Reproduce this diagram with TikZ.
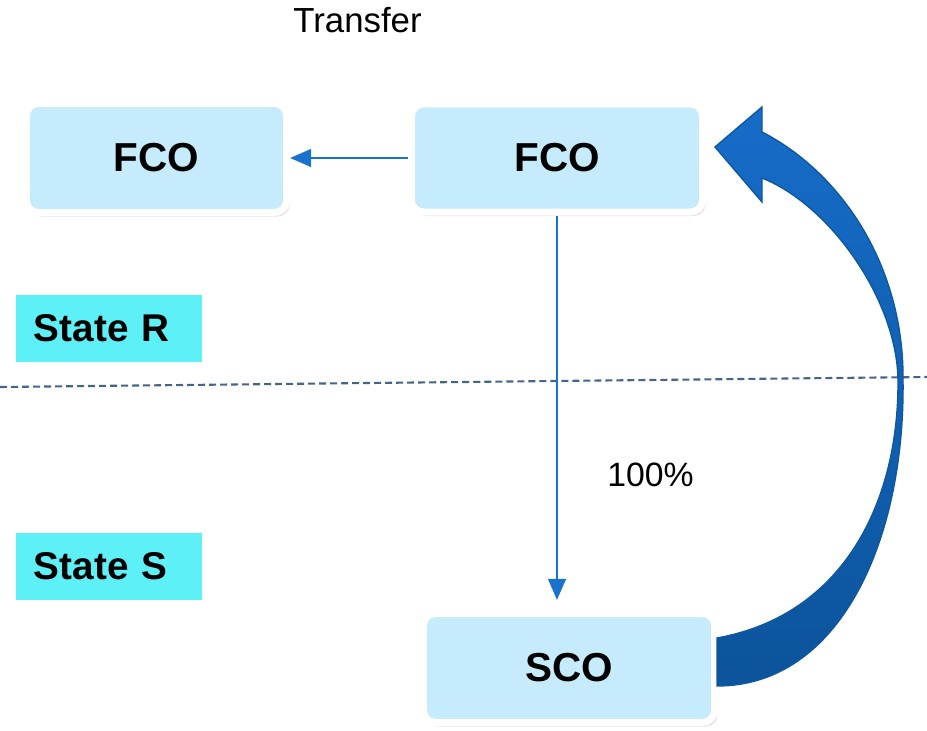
\documentclass[tikz,border=0pt]{standalone}
\usepackage{fontspec}
\setmainfont{Liberation Sans}
\usepackage{xcolor}
\usepackage{tikz}
\usetikzlibrary{positioning, shadows, arrows.meta}
\definecolor{boxblue}{RGB}{198,235,252}
\definecolor{statecyan}{RGB}{94,240,247}
\definecolor{linkblue}{RGB}{25,115,205}
\definecolor{bendtop}{RGB}{22,108,200}
\definecolor{bendbot}{RGB}{12,84,155}
\definecolor{bendedge}{RGB}{14,88,160}
\definecolor{divider}{RGB}{70,100,135}

\begin{document}
\begin{tikzpicture}[x=0.01cm, y=-0.01cm,
        cobox/.style={draw=white, line width=0.07cm, fill=boxblue, rounded corners=0.12cm,
            drop shadow={shadow xshift=0.3mm, shadow yshift=-0.4mm, fill=black!35, opacity=0.35},
            font=\fontsize{11.5}{13}\selectfont\bfseries},
        statebox/.style={fill=statecyan, minimum width=1.86cm, minimum height=0.67cm,
            text width=1.5cm, inner xsep=0.18cm, align=left,
            font=\fontsize{11}{13}\selectfont\bfseries},
        note/.style={font=\fontsize{9.9}{11}\selectfont, anchor=base},
        link/.style={draw=linkblue, line width=0.8pt, -{Triangle[width=5pt,length=6pt]}}]
            \useasboundingbox (0,0) rectangle (927,731);
            \coordinate (divL) at (0,387);
            \coordinate (divR) at (927,377);
            \draw[divider, line width=0.6pt, dash pattern=on 0.07cm off 0.04cm] (divL) -- (divR);
            \node[cobox, minimum width=2.6cm, minimum height=1.09cm] (fcoL) at (156.5,158) {FCO};
            \node[cobox, minimum width=2.91cm, minimum height=1.08cm] (fcoR) at (557,158) {FCO};
            \node[cobox, minimum width=2.91cm, minimum height=1.09cm] (sco) at (569,668) {SCO};
            \node[statebox] (stR) at (109,328.5) {State R};
            \node[statebox] (stS) at (109,566.5) {State S};
            \node[note] (xfer) at (357.5,33) {Transfer};
            \node[note, font=\fontsize{9.6}{11}\selectfont] (pct) at (650.5,487) {100\%};
            \draw[link] (fcoR.west) -- (fcoL.east);
            \draw[link, shorten >=0.1cm] (fcoR.south) -- (fcoR.south |- sco.north);
            \draw[bendedge, line width=0.4pt, top color=bendtop, bottom color=bendbot]
                (717,686) .. controls (840,686) and (905,540) .. (903,380)
                .. controls (904,270) and (845,175) .. (762,132)
                -- (762,107) -- (715,147) -- (762,202) -- (762,178)
                .. controls (830,205) and (897,300) .. (898,380)
                .. controls (899,500) and (845,615) .. (717,638) -- cycle;
        \end{tikzpicture}
\end{document}
